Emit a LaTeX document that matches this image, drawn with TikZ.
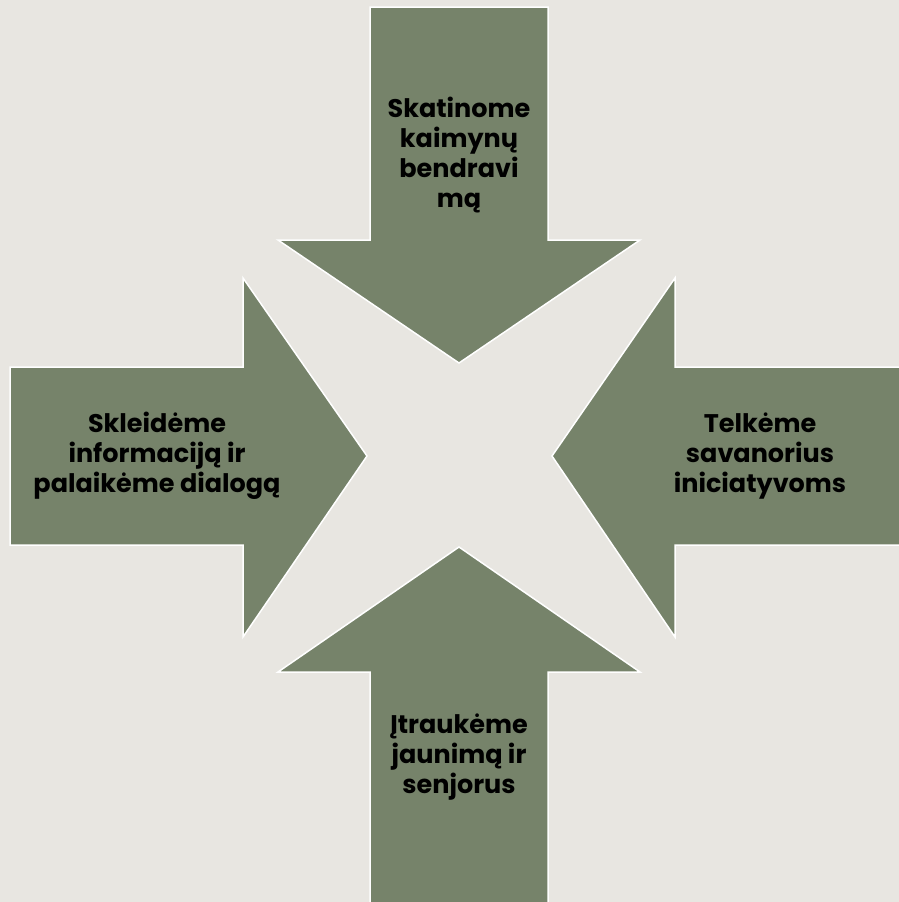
\documentclass[tikz,border=0pt]{standalone}
\usepackage{fontspec}
\setmainfont{Poppins}
\definecolor{bgc}{HTML}{E8E6E1}
\definecolor{arrc}{HTML}{76836A}
\begin{document}
\begin{tikzpicture}[x=1pt,y=-1pt,
  arrowshape/.style={fill=arrc,draw=white,line width=1.5pt,line join=miter},
  lbl/.style={align=center,font=\fontsize{25.5}{30}\selectfont\bfseries,text=black,inner sep=0pt}]
\fill[bgc] (0,0) rectangle (899,902);
\useasboundingbox (0,0) rectangle (899,902);
% top arrow (pointing down)
\draw[arrowshape] (370,7) -- (548,7) -- (548,240) -- (640,240) -- (459,363) -- (278,240) -- (370,240) -- cycle;
% bottom arrow (pointing up)
\draw[arrowshape] (370,910) -- (548,910) -- (548,672) -- (640,672) -- (459,547) -- (278,672) -- (370,672) -- cycle;
% left arrow (pointing right)
\draw[arrowshape] (10,367) -- (243,367) -- (243,278) -- (367,456) -- (243,637) -- (243,545) -- (10,545) -- cycle;
% right arrow (pointing left)
\draw[arrowshape] (910,367) -- (675,367) -- (675,278) -- (552,456) -- (675,637) -- (675,545) -- (910,545) -- cycle;
\node[lbl] (t) at (459,155) {Skatinome\\kaimynų\\bendravi\\mą};
\node[lbl] (l) at (157,456) {Skleidėme\\informaciją ir\\palaikėme dialogą};
\node[lbl] (r) at (760,456) {Telkėme\\savanorius\\iniciatyvoms};
\node[lbl] (b) at (459,757) {Įtraukėme\\jaunimą ir\\senjorus};
\end{tikzpicture}
\end{document}
